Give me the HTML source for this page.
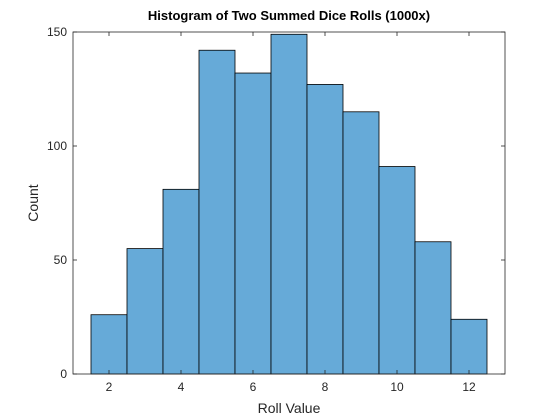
<!DOCTYPE html>
<html><head><meta charset="utf-8"><style>
body{margin:0;background:#fff;}
svg{display:block;font-family:"Liberation Sans",Arial,sans-serif;}
</style></head><body>
<svg id="chart" width="560" height="420" viewBox="0 0 560 420">
<rect x="0" y="0" width="560" height="420" fill="#fff"/>
<g id="bars"></g>
<g id="axes"></g>
<text x="289" y="20" text-anchor="middle" font-size="13" font-weight="bold" fill="#000">Histogram of Two Summed Dice Rolls (1000x)</text>
<text x="289" y="413" text-anchor="middle" font-size="14" fill="#262626">Roll Value</text>
<text x="38" y="203" text-anchor="middle" font-size="14" fill="#262626" transform="rotate(-90 38 203)">Count</text>
</svg>
<script>
const categories = [2,3,4,5,6,7,8,9,10,11,12];
const counts = [26,55,81,142,132,149,127,115,91,58,24];
const xTicks = [2,4,6,8,10,12];
const yTicks = [0,50,100,150];

const L=73,R=505,T=32,B=374;
const xMin=1,xMax=13,yMin=0,yMax=150;
const sx=v=>L+(v-xMin)/(xMax-xMin)*(R-L);
const sy=v=>B-(v-yMin)/(yMax-yMin)*(B-T);
const NS="http://www.w3.org/2000/svg";
const barsG=document.getElementById('bars');
const axesG=document.getElementById('axes');
function mk(tag,attrs,parent){const e=document.createElementNS(NS,tag);for(const k in attrs)e.setAttribute(k,attrs[k]);parent.appendChild(e);return e;}

categories.forEach((c,i)=>{
  const r=mk('rect',{x:sx(c-0.5),y:sy(counts[i]),width:sx(c+0.5)-sx(c-0.5),height:sy(0)-sy(counts[i]),fill:'#66aad8',stroke:'#000','stroke-width':0.8},barsG);
  
  
});

const box=mk('rect',{x:L,y:T,width:R-L,height:B-T,fill:'none',stroke:'#262626','stroke-width':0.8},axesG);



xTicks.forEach(t=>{
  const x=sx(t);
  mk('line',{x1:x,y1:B,x2:x,y2:B-4,stroke:'#262626','stroke-width':0.8},axesG);
  mk('line',{x1:x,y1:T,x2:x,y2:T+4,stroke:'#262626','stroke-width':0.8},axesG);
  const tx=mk('text',{x:x,y:B+17,'text-anchor':'middle','font-size':12,fill:'#262626'},axesG);
  tx.textContent=t;
  
  
});
yTicks.forEach(t=>{
  const y=sy(t);
  mk('line',{x1:L,y1:y,x2:L+4,y2:y,stroke:'#262626','stroke-width':0.8},axesG);
  mk('line',{x1:R,y1:y,x2:R-4,y2:y,stroke:'#262626','stroke-width':0.8},axesG);
  const ty=mk('text',{x:L-6,y:y+4,'text-anchor':'end','font-size':12,fill:'#262626'},axesG);
  ty.textContent=t;
  
  
});
</script>
</body></html>
